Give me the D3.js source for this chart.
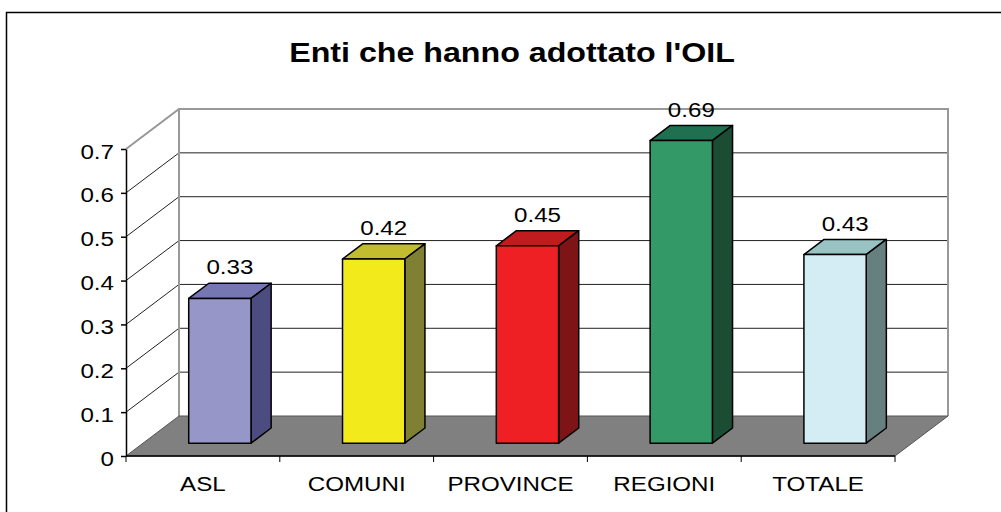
<!DOCTYPE html>
<html>
<head>
<meta charset="utf-8">
<script src="https://d3js.org/d3.v7.min.js"></script>
<style>
  body { margin: 0; background: #fff; }
  svg { display: block; }
  text { font-family: "Liberation Sans", Arial, sans-serif; fill: #000; }
</style>
</head>
<body>
<svg id="chart"></svg>
<script>
// data
const title = "Enti che hanno adottato l'OIL";
const categories = ["ASL", "COMUNI", "PROVINCE", "REGIONI", "TOTALE"];
const values = [0.33, 0.42, 0.45, 0.69, 0.43];
const yTicks = [0, 0.1, 0.2, 0.3, 0.4, 0.5, 0.6, 0.7];

// bar face colours (front / top / side)
const frontColors = ["#9696c8", "#f2ea1a", "#ee2024", "#339966", "#d4ecf3"];
const topColors = ["#7676b2", "#c2bd2e", "#c01c1f", "#1f7050", "#99c2c2"];
const sideColors = ["#4c4c80", "#808033", "#7f1416", "#1a4d33", "#668080"];

const width = 1001;
const height = 512;
const plot = { left: 126, right: 895, top: 149, bottom: 456 };
const depth = { dx: 53, dy: -40 };   // offset of back wall
const f0 = 0.32, f1 = 0.70;          // bar front/back in depth
const stretch = 1.15;                // text is a bit wide in the original

const svg = d3.select("svg#chart")
  .attr("width", width)
  .attr("height", height);

// outer frame
svg.append("rect")
  .attr("x", 6.5).attr("y", 12.5)
  .attr("width", 1000).attr("height", 520)
  .style("fill", "none").style("stroke", "#000").style("stroke-width", 1.5);

svg.append("text")
  .attr("transform", "translate(512,62) scale(" + stretch + ",1)")
  .attr("text-anchor", "middle")
  .style("font-size", "28px")
  .style("font-weight", "bold")
  .text(title);

const y = d3.scaleLinear().domain([0, 0.7]).range([plot.bottom, plot.top]);
const x = d3.scaleBand().domain(categories).range([plot.left, plot.right]);
const barW = x.bandwidth() * 0.405;

const p = (px, py, f) => [px + depth.dx * f, py + depth.dy * f];
const poly = pts => pts.map(d => d.join(",")).join(" ");

// walls
const yTop = y(0.7), y0 = y(0);
svg.append("polygon")
  .attr("points", poly([p(plot.left, yTop, 0), p(plot.left, yTop, 1), p(plot.left, y0, 1), p(plot.left, y0, 0)]))
  .style("fill", "#fff");
svg.append("rect")
  .attr("x", plot.left + depth.dx).attr("y", yTop + depth.dy)
  .attr("width", plot.right - plot.left).attr("height", y0 - yTop)
  .style("fill", "#fff");

// gridlines on side + back wall
const grid = svg.append("g").style("stroke", "#222").style("stroke-width", 1);
yTicks.filter(t => t > 0).forEach(t => {
  grid.append("line")
    .attr("x1", plot.left).attr("y1", y(t))
    .attr("x2", plot.left + depth.dx).attr("y2", y(t) + depth.dy);
  if (t < 0.7) {
    grid.append("line")
      .attr("x1", plot.left + depth.dx).attr("y1", y(t) + depth.dy)
      .attr("x2", plot.right + depth.dx).attr("y2", y(t) + depth.dy);
  }
});

// wall edges
svg.append("path")
  .attr("d", "M" + plot.left + "," + yTop +
    "L" + p(plot.left, yTop, 1) +
    "L" + p(plot.right, yTop, 1) +
    "L" + p(plot.right, y0, 1))
  .style("fill", "none").style("stroke", "#999").style("stroke-width", 2);
svg.append("line")
  .attr("x1", plot.left + depth.dx).attr("y1", yTop + depth.dy)
  .attr("x2", plot.left + depth.dx).attr("y2", y0 + depth.dy)
  .style("stroke", "#999").style("stroke-width", 2);

// floor
svg.append("polygon")
  .attr("points", poly([p(plot.left, y0, 0), p(plot.right, y0, 0), p(plot.right, y0, 1), p(plot.left, y0, 1)]))
  .style("fill", "#808080")
  .style("stroke", "#555").style("stroke-width", 1);

// bars
const bars = svg.append("g").selectAll("g")
  .data(categories)
  .enter()
  .append("g")
  .attr("class", "bar")
  .style("stroke", "#000")
  .style("stroke-width", 1.5)
  .style("stroke-linejoin", "round");

bars.each(function(c, i) {
  const g = d3.select(this);
  const xc = x(c) + x.bandwidth() / 2;
  const xa = xc - barW / 2, xb = xc + barW / 2;
  const yt = y(values[i]);
  g.append("polygon")
    .attr("points", poly([p(xa, yt, f0), p(xb, yt, f0), p(xb, yt, f1), p(xa, yt, f1)]))
    .style("fill", topColors[i]);
  g.append("polygon")
    .attr("points", poly([p(xb, yt, f0), p(xb, y0, f0), p(xb, y0, f1), p(xb, yt, f1)]))
    .style("fill", sideColors[i]);
  const fr = p(xa, yt, f0);
  g.append("rect")
    .attr("x", fr[0]).attr("y", fr[1])
    .attr("width", barW).attr("height", y0 - yt)
    .style("fill", frontColors[i]);
});

// value labels
svg.append("g").selectAll("text")
  .data(categories)
  .enter()
  .append("text")
  .attr("transform", (c, i) => {
    const xc = x(c) + x.bandwidth() / 2 + depth.dx * (f0 + f1) / 2;
    const yy = y(values[i]) + depth.dy * f0 - 24;
    return "translate(" + xc + "," + yy + ") scale(" + stretch + ",1)";
  })
  .attr("text-anchor", "middle")
  .style("font-size", "21px")
  .text((c, i) => values[i].toFixed(2));

// y axis
const yAxis = d3.axisLeft(y)
  .tickValues(yTicks)
  .tickFormat(d => d === 0 ? "0" : d3.format(".1f")(d))
  .tickSize(5)
  .tickSizeOuter(0);

const ya = svg.append("g")
  .attr("transform", "translate(" + plot.left + ",0)")
  .call(yAxis);
ya.select(".domain").style("stroke", "#000").style("stroke-width", 1.5);
ya.selectAll(".tick line").style("stroke", "#000").style("stroke-width", 1.5);
ya.selectAll(".tick text")
  .attr("x", null).attr("dy", null)
  .attr("transform", "translate(-12,9) scale(" + stretch + ",1)")
  .style("font-size", "21px");

// x axis
const xa = svg.append("g");
xa.append("line")
  .attr("x1", plot.left).attr("x2", plot.right)
  .attr("y1", y0).attr("y2", y0)
  .style("stroke", "#000").style("stroke-width", 1.5);
xa.selectAll("line.tick")
  .data(categories.map(c => x(c)).concat([plot.right]))
  .enter()
  .append("line")
  .attr("class", "tick")
  .attr("x1", d => d).attr("x2", d => d)
  .attr("y1", y0).attr("y2", y0 + 6)
  .style("stroke", "#000").style("stroke-width", 1);
xa.selectAll("text")
  .data(categories)
  .enter()
  .append("text")
  .attr("transform", c => "translate(" + (x(c) + x.bandwidth() / 2) + ",491) scale(" + stretch + ",1)")
  .attr("text-anchor", "middle")
  .style("font-size", "21px")
  .text(c => c);
</script>
</body>
</html>
